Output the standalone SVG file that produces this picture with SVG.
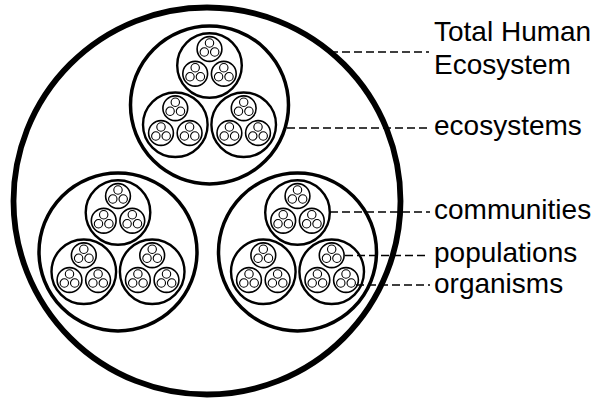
<svg xmlns="http://www.w3.org/2000/svg" xmlns:xlink="http://www.w3.org/1999/xlink" width="602" height="400" viewBox="0 0 602 400">
  <style>
    circle { fill: none; stroke: #000; }
    .total { stroke-width: 5.8; }
    .eco { stroke-width: 3.5; }
    .comm { stroke-width: 2.4; }
    .pop { stroke-width: 1.6; }
    .org { stroke-width: 1.1; }
    .leader { stroke: #000; stroke-width: 1.7; stroke-dasharray: 8 4; fill: none; }
    .label { font-family: "Liberation Sans", Arial, sans-serif; font-size: 28px; fill: #000; }
  </style>
  <defs>
    <!-- each level holds three children: one above, two below -->
    <g id="organisms">
      <circle class="org" cx="0" cy="-6" r="4.2"/>
      <circle class="org" cx="-5.2" cy="3" r="4.2"/>
      <circle class="org" cx="5.2" cy="3" r="4.2"/>
    </g>
    <g id="population">
      <circle class="pop" cx="0" cy="0" r="12.4"/>
      <use xlink:href="#organisms"/>
    </g>
    <g id="community">
      <circle class="comm" cx="0" cy="0" r="32.3"/>
      <use xlink:href="#population" x="0" y="-16.5"/>
      <use xlink:href="#population" x="-14.3" y="8.25"/>
      <use xlink:href="#population" x="14.3" y="8.25"/>
    </g>
    <g id="ecosystem">
      <circle class="eco" cx="0" cy="0" r="79"/>
      <use xlink:href="#community" x="0" y="-39.5"/>
      <use xlink:href="#community" x="-34.2" y="19.75"/>
      <use xlink:href="#community" x="34.2" y="19.75"/>
    </g>
  </defs>

  <g id="total-human-ecosystem">
    <circle class="total" cx="207" cy="201" r="193.5"/>
  </g>
  <g id="ecosystem-top">
    <use xlink:href="#ecosystem" x="209.5" y="105"/>
  </g>
  <g id="ecosystem-left">
    <use xlink:href="#ecosystem" x="118" y="252"/>
  </g>
  <g id="ecosystem-right">
    <use xlink:href="#ecosystem" x="297.5" y="252"/>
  </g>

  <g id="connectors">
    <line class="leader" x1="330" y1="52" x2="429" y2="52"/>
    <line class="leader" x1="287" y1="128" x2="430" y2="128"/>
    <line class="leader" x1="330" y1="212" x2="430" y2="212"/>
    <line class="leader" x1="345" y1="255.5" x2="428" y2="255.5"/>
    <line class="leader" x1="356" y1="285" x2="430" y2="285"/>
  </g>

  <g id="labels">
    <text class="label" x="434" y="41">Total Human</text>
    <text class="label" x="434" y="74">Ecosystem</text>
    <text class="label" x="434" y="135">ecosystems</text>
    <text class="label" x="434" y="219">communities</text>
    <text class="label" x="434" y="262">populations</text>
    <text class="label" x="434" y="293">organisms</text>
  </g>
</svg>
